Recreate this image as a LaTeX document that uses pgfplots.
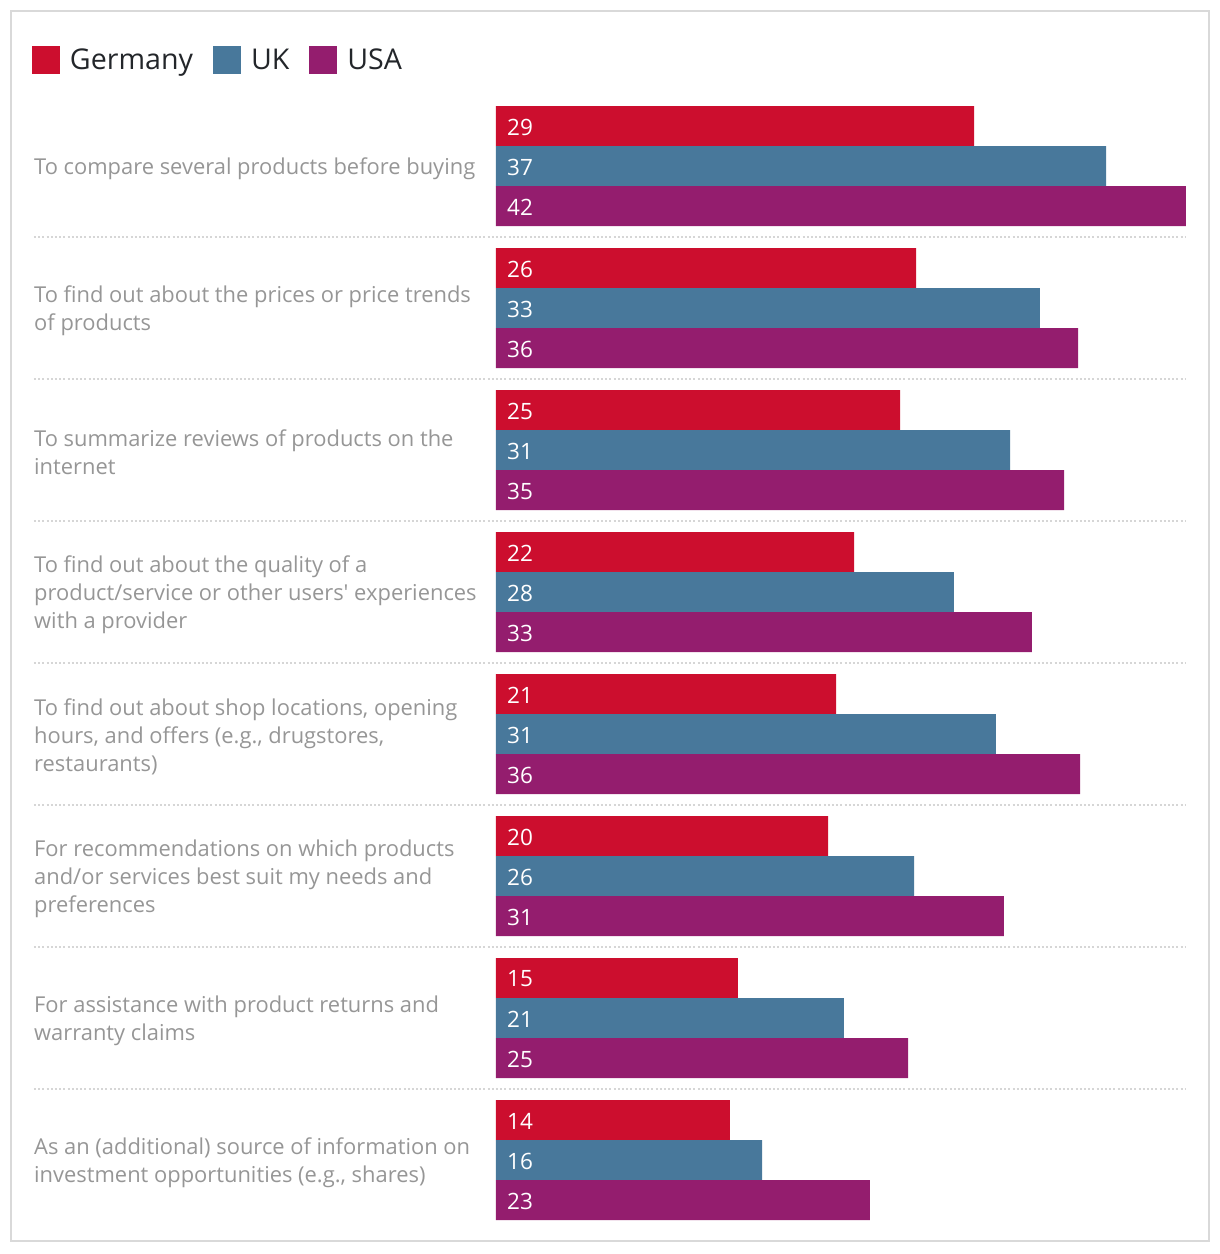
\documentclass[border=0pt]{standalone}
\usepackage{pgfplots}
\pgfplotsset{compat=1.18}
\usepackage{pgfplotstable}
\usepackage{fontspec}
\setmainfont{Open Sans}
\definecolor{cde}{RGB}{204,14,46}
\definecolor{cuk}{RGB}{72,120,155}
\definecolor{cus}{RGB}{148,29,110}
\definecolor{labgray}{RGB}{150,150,150}
\definecolor{sepgray}{RGB}{214,214,214}
\definecolor{bordergray}{RGB}{217,217,217}
\definecolor{legtext}{RGB}{35,38,42}
\tikzset{
  glab/.style={anchor=west, align=left, text=labgray, inner sep=0pt, yshift=-2.5pt, font=\fontsize{21.9}{28}\selectfont},
  sep/.style={sepgray, line width=2pt, dash pattern=on 2pt off 2.2pt},
}
\pgfplotstableread{
de delab uk uklab us uslab
29.24 29 37.31 37 42.20 42
25.69 26 33.27 33 35.60 36
24.71 25 31.44 31 34.74 35
21.90 22 28.01 28 32.78 33
20.80 21 30.58 31 35.72 36
20.31 20 25.57 26 31.07 31
14.80 15 21.28 21 25.20 25
14.31 14 16.27 16 22.87 23
}\data
\begin{document}
\begin{tikzpicture}
\path[use as bounding box] (0pt,0pt) rectangle (1220pt,1254pt);
\draw[bordergray, line width=2pt] (11pt,13pt) rectangle (1209pt,1243pt);
\begin{axis}[
  at={(496pt,1159pt)}, anchor=north west,
  x=16.35pt, y=142pt, y dir=reverse,
  xmin=0, xmax=42.2, ymin=-0.5, ymax=7.5,
  hide axis, clip=false,
  legend columns=3,
  legend style={draw=none, fill=none, at={(-0.6725,1.0308)}, anchor=west,
    font=\fontsize{28.6}{32}\selectfont, text=legtext, inner sep=0pt, outer sep=0pt,
    /tikz/every odd column/.append style={column sep=8pt},
    /tikz/every even column/.append style={column sep=18pt}},
  legend image code/.code={\fill[#1] (0pt,-14pt) rectangle (28pt,14pt);},
  vlab/.style={draw=none, mark=none, forget plot, nodes near coords, point meta=explicit symbolic,
    nodes near coords style={anchor=west, text=white, inner sep=0pt, xshift=11pt, yshift=-1pt, font=\fontsize{22.5}{26}\selectfont}},
]
\addplot[xbar, bar width=40pt, bar shift=0pt, fill=cde, draw=none] table[x=de, y expr=\coordindex-0.2817]{\data};
\addlegendentry{Germany}
\addplot[xbar, bar width=40pt, bar shift=0pt, fill=cuk, draw=none] table[x=uk, y expr=\coordindex]{\data};
\addlegendentry{UK}
\addplot[xbar, bar width=40pt, bar shift=0pt, fill=cus, draw=none] table[x=us, y expr=\coordindex+0.2817]{\data};
\addlegendentry{USA}
\addplot[vlab] table[x expr=0, y expr=\coordindex-0.2817, meta=delab]{\data};
\addplot[vlab] table[x expr=0, y expr=\coordindex, meta=uklab]{\data};
\addplot[vlab] table[x expr=0, y expr=\coordindex+0.2817, meta=uslab]{\data};
\node[glab] at (axis cs:-28.257,0) {To compare several products before buying};
\node[glab] at (axis cs:-28.257,1) {To find out about the prices or price trends\\of products};
\node[glab] at (axis cs:-28.257,2) {To summarize reviews of products on the\\internet};
\node[glab] at (axis cs:-28.257,3) {To find out about the quality of a\\product/service or other users\textquotesingle{} experiences\\with a provider};
\node[glab] at (axis cs:-28.257,4) {To find out about shop locations, opening\\hours, and offers (e.g., drugstores,\\restaurants)};
\node[glab] at (axis cs:-28.257,5) {For recommendations on which products\\and/or services best suit my needs and\\preferences};
\node[glab] at (axis cs:-28.257,6) {For assistance with product returns and\\warranty claims};
\node[glab] at (axis cs:-28.257,7) {As an (additional) source of information on\\investment opportunities (e.g., shares)};
\draw[sep] (axis cs:-28.257,0.5) -- (axis cs:42.2,0.5);
\draw[sep] (axis cs:-28.257,1.5) -- (axis cs:42.2,1.5);
\draw[sep] (axis cs:-28.257,2.5) -- (axis cs:42.2,2.5);
\draw[sep] (axis cs:-28.257,3.5) -- (axis cs:42.2,3.5);
\draw[sep] (axis cs:-28.257,4.5) -- (axis cs:42.2,4.5);
\draw[sep] (axis cs:-28.257,5.5) -- (axis cs:42.2,5.5);
\draw[sep] (axis cs:-28.257,6.5) -- (axis cs:42.2,6.5);
\end{axis}
\end{tikzpicture}
\end{document}
